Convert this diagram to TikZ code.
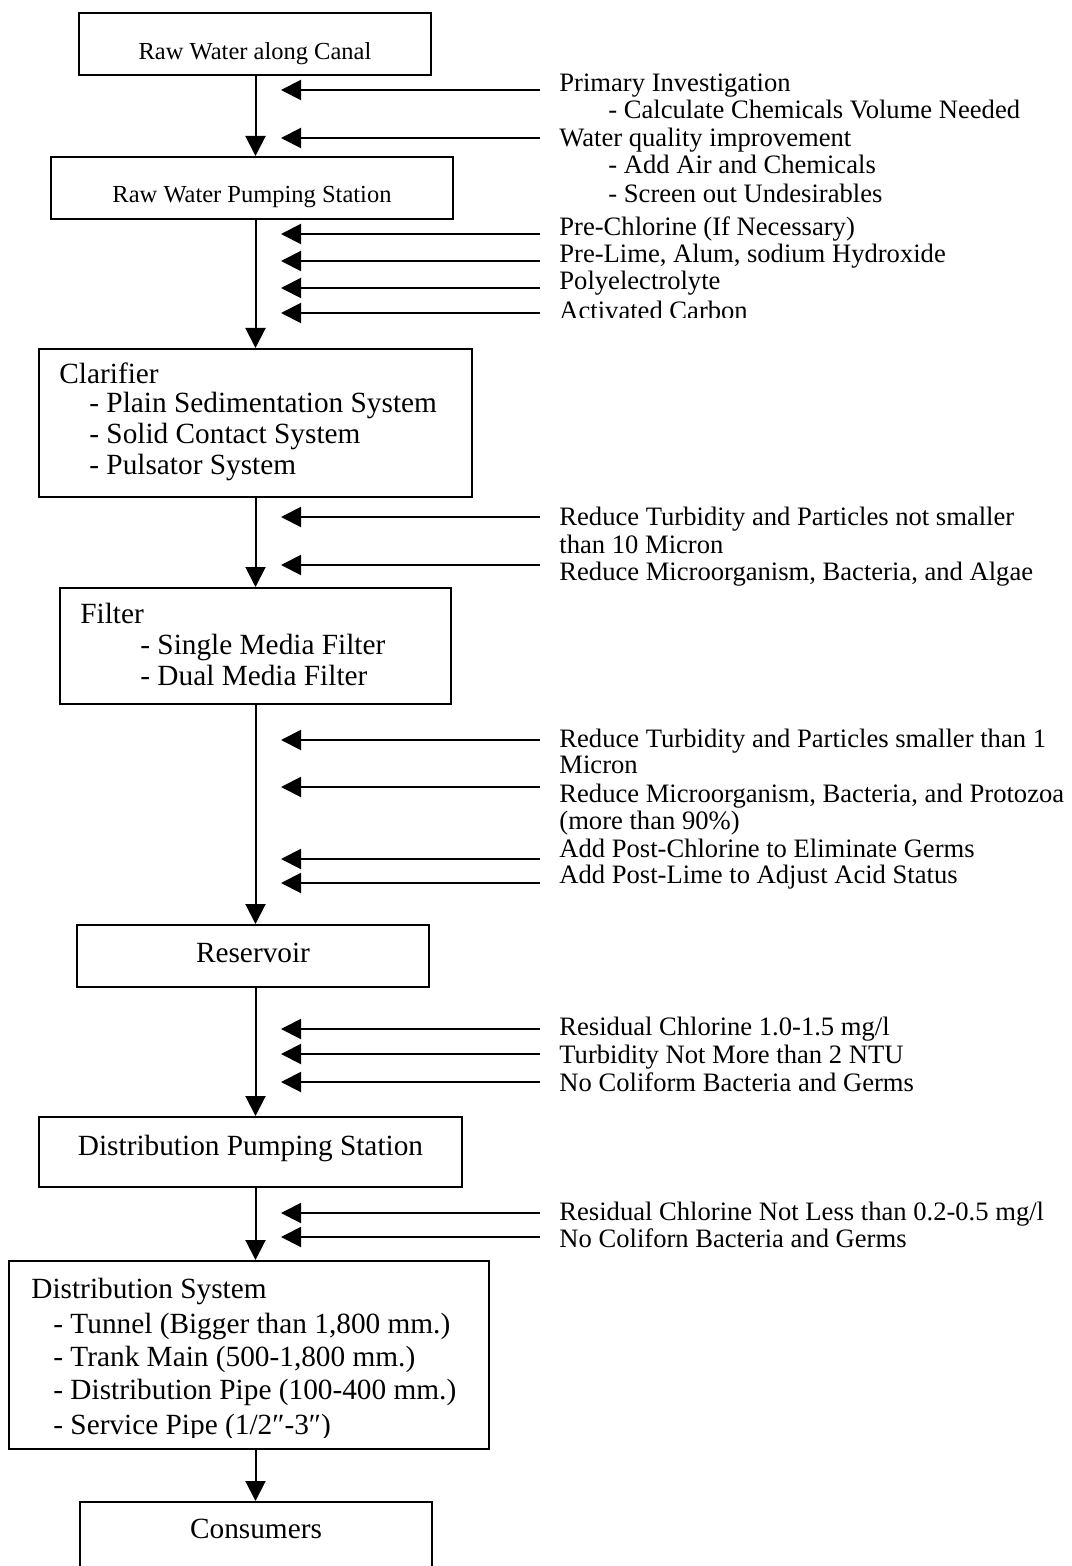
\documentclass[tikz,border=0pt]{standalone}
\usepackage{fontspec}
\setmainfont{Liberation Serif}
\usetikzlibrary{arrows.meta}
\begin{document}
\begin{tikzpicture}[x=0.5pt,y=-0.5pt,
  box/.style={draw,line width=1pt,inner sep=0pt,rectangle},
  flow/.style={line width=1pt,-{Triangle[length=10pt,width=10pt]}},
  note/.style={anchor=base west,inner sep=0pt,font=\fontsize{13.3}{13.5}\selectfont},
  boxtxt/.style={anchor=base west,inner sep=0pt,font=\fontsize{14.65}{15}\selectfont},
  midtxt/.style={anchor=base,inner sep=0pt,font=\fontsize{14.65}{15}\selectfont},
  smalltxt/.style={anchor=base,inner sep=0pt,font=\fontsize{12.25}{13}\selectfont},
]
% page frame
\clip (0,0) rectangle (1071,1566);
\fill[white] (0,0) rectangle (1071,1566);

% spine of the main flow
\coordinate (sp) at (255.5,0);

% process boxes
\node[box,minimum width=176pt,minimum height=31pt] (canal) at (255,44) {};
\node[box,minimum width=201pt,minimum height=31pt] (rwps) at (252,188) {};
\node[box,minimum width=216.5pt,minimum height=74pt] (clar) at (255.5,423) {};
\node[box,minimum width=195.5pt,minimum height=58pt] (filt) at (255.5,646) {};
\node[box,minimum width=176pt,minimum height=31pt] (resv) at (253,956) {};
\node[box,minimum width=211.5pt,minimum height=35pt] (dps) at (250.5,1152) {};
\node[box,minimum width=240pt,minimum height=94pt] (dsys) at (249,1355) {};
\node[box,minimum width=176pt,minimum height=49pt] (cons) at (256,1551) {};

% box texts
\node[smalltxt] (tcanal) at (255,60) {Raw Water along Canal};
\node[smalltxt] (trwps) at (252,203) {Raw Water Pumping Station};
\node[boxtxt] (tclar0) at (59,384) {Clarifier};
\node[boxtxt] (tclar1) at (89,413) {- Plain Sedimentation System};
\node[boxtxt] (tclar2) at (89,444) {- Solid Contact System};
\node[boxtxt] (tclar3) at (89,475) {- Pulsator System};
\node[boxtxt] (tfilt0) at (80,623) {Filter};
\node[boxtxt] (tfilt1) at (140,654) {- Single Media Filter};
\node[boxtxt] (tfilt2) at (140,685) {- Dual Media Filter};
\node[midtxt] (tresv) at (253,962) {Reservoir};
\node[midtxt] (tdps) at (250.5,1155) {Distribution Pumping Station};
\node[boxtxt] (tds0) at (31,1298) {Distribution System};
\node[boxtxt] (tds1) at (53,1333) {- Tunnel (Bigger than 1,800 mm.)};
\node[boxtxt] (tds2) at (53,1366) {- Trank Main (500-1,800 mm.)};
\node[boxtxt] (tds3) at (53,1399) {- Distribution Pipe (100-400 mm.)};
\begin{scope}
  \clip (0,1405) rectangle (500,1437);
  \node[boxtxt] (tds4) at (53,1434) {- Service Pipe (1/2″-3″)};
\end{scope}
\node[midtxt] (tcons) at (256,1538) {Consumers};

% main flow
\draw[flow] (canal.south -| sp) -- (rwps.north -| sp);
\draw[flow] (rwps.south -| sp) -- (clar.north -| sp);
\draw[flow] (clar.south -| sp) -- (filt.north -| sp);
\draw[flow] (filt.south -| sp) -- (resv.north -| sp);
\draw[flow] (resv.south -| sp) -- (dps.north -| sp);
\draw[flow] (dps.south -| sp) -- (dsys.north -| sp);
\draw[flow] (dsys.south -| sp) -- (cons.north -| sp);

% side feeds: from the notes column to the flow
\foreach \n/\y in {a/90,b/138,c/234,d/261,e/288,f/313,g/517,h/565,i/740,j/787,k/859,l/883,m/1029,n/1054,o/1082,p/1213,q/1237}{
  \coordinate (s\n) at (540,\y);
  \coordinate (e\n) at (281,\y);
  \draw[flow] (s\n) -- (e\n);
}

% notes
\node[note] (n1) at (559,92) {Primary Investigation};
\node[note] (n2) at (608,119) {- Calculate Chemicals Volume Needed};
\node[note] (n3) at (559,147) {Water quality improvement};
\node[note] (n4) at (608,174) {- Add Air and Chemicals};
\node[note] (n5) at (608,203) {- Screen out Undesirables};
\node[note] (n6) at (559,236) {Pre-Chlorine (If Necessary)};
\node[note] (n7) at (559,263) {Pre-Lime, Alum, sodium Hydroxide};
\node[note] (n8) at (559,290) {Polyelectrolyte};
\begin{scope}
  \clip (540,295) rectangle (1071,318);
  \node[note] (n9) at (559,320) {Activated Carbon};
\end{scope}
\node[note] (n10) at (559,525) {Reduce Turbidity and Particles not smaller};
\node[note] (n11) at (559,553) {than 10 Micron};
\node[note] (n12) at (559,580) {Reduce Microorganism, Bacteria, and Algae};
\node[note] (n13) at (559,747) {Reduce Turbidity and Particles smaller than 1};
\node[note] (n14) at (559,773) {Micron};
\node[note] (n15) at (559,802) {Reduce Microorganism, Bacteria, and Protozoa};
\node[note] (n16) at (559,829) {(more than 90\%)};
\node[note] (n17) at (559,857) {Add Post-Chlorine to Eliminate Germs};
\node[note] (n18) at (559,883) {Add Post-Lime to Adjust Acid Status};
\node[note] (n19) at (559,1035) {Residual Chlorine 1.0-1.5 mg/l};
\node[note] (n20) at (559,1063) {Turbidity Not More than 2 NTU};
\node[note] (n21) at (559,1091) {No Coliform Bacteria and Germs};
\node[note] (n22) at (559,1220) {Residual Chlorine Not Less than 0.2-0.5 mg/l};
\node[note] (n23) at (559,1247) {No Coliforn Bacteria and Germs};
\end{tikzpicture}
\end{document}
